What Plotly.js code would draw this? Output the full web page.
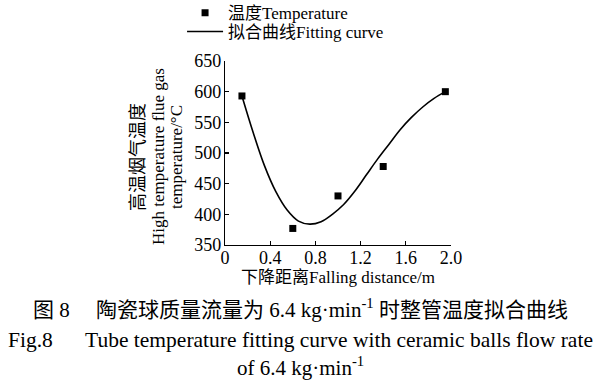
<!DOCTYPE html>
<html>
<head>
<meta charset="utf-8">
<script src="https://cdn.plot.ly/plotly-3.0.1.min.js"></script>
<style>
  html, body { margin: 0; padding: 0; background: #fff; }
  #chart { width: 600px; height: 383px; }
</style>
</head>
<body>
<div id="chart"></div>
<script>
// Measured temperature points
const measuredX = [0.15, 0.60, 1.00, 1.40, 1.95];
const measuredY = [593, 377, 430, 478, 600];

// Fitting curve
const fitX = [0.15, 0.25, 0.35, 0.45, 0.55, 0.65, 0.75, 0.85, 0.95, 1.05, 1.15, 1.25, 1.35, 1.45, 1.55, 1.65, 1.75, 1.85, 1.95];
const fitY = [593, 533, 479, 437, 407, 389, 384, 388, 400, 416, 438, 464, 490, 514, 538, 558, 575, 589, 600];

const xTicks = [0, 0.4, 0.8, 1.2, 1.6, 2.0];
const xTickLabels = ['0', '0.4', '0.8', '1.2', '1.6', '2.0'];
const yTicks = [350, 400, 450, 500, 550, 600, 650];

const serif = 'Liberation Serif, Noto Sans CJK SC, serif';
const latin = 'Liberation Serif, serif';

const traces = [
  {
    x: measuredX, y: measuredY, type: 'scatter', mode: 'markers',
    name: '温度Temperature', legend: 'legend',
    marker: { symbol: 'square', size: 7, color: '#000' }
  },
  {
    x: fitX, y: fitY, type: 'scatter', mode: 'lines',
    name: '拟合曲线Fitting curve', legend: 'legend2',
    line: { color: '#000', width: 1.6, shape: 'spline', smoothing: 1 }
  }
];

const legendStyle = {
  xanchor: 'left', yanchor: 'middle',
  font: { family: serif, size: 17, color: '#000' },
  bgcolor: 'rgba(0,0,0,0)', itemwidth: 36
};

const layout = {
  width: 600, height: 383,
  margin: { l: 225, r: 149, t: 61, b: 138, autoexpand: false },
  paper_bgcolor: '#fff', plot_bgcolor: '#fff',
  font: { family: serif, size: 17, color: '#000' },
  showlegend: true,
  legend: Object.assign({ x: -0.19, y: 1.26 }, legendStyle),
  legend2: Object.assign({ x: -0.19, y: 1.158 }, legendStyle),
  xaxis: {
    range: [0, 2.0], tickvals: xTicks, ticktext: xTickLabels,
    showline: true, linecolor: '#000', linewidth: 1.2,
    ticks: 'inside', ticklen: 4, tickcolor: '#000', tickwidth: 1.2,
    showgrid: false, zeroline: false, ticklabelstandoff: -4,
    tickfont: { family: latin, size: 18, color: '#000' },
    title: { text: '下降距离Falling distance/m', font: { family: serif, size: 17, color: '#000' }, standoff: 0 }
  },
  yaxis: {
    range: [350, 650], tickvals: yTicks,
    showline: true, linecolor: '#000', linewidth: 1.2,
    ticks: 'inside', ticklen: 4, tickcolor: '#000', tickwidth: 1.2,
    showgrid: false, zeroline: false, ticklabelstandoff: -1,
    tickfont: { family: latin, size: 18, color: '#000' }
  },
  annotations: [
    { xref: 'paper', yref: 'paper', x: 0, y: 0.478, xshift: -87, textangle: -90,
      text: '高温烟气温度', showarrow: false, xanchor: 'center', yanchor: 'middle',
      font: { family: serif, size: 18, color: '#000' } },
    { xref: 'paper', yref: 'paper', x: 0, y: 0.478, xshift: -67, textangle: -90,
      text: 'High temperature flue gas', showarrow: false, xanchor: 'center', yanchor: 'middle',
      font: { family: serif, size: 17, color: '#000' } },
    { xref: 'paper', yref: 'paper', x: 0, y: 0.478, xshift: -49, textangle: -90,
      text: 'temperature/°C', showarrow: false, xanchor: 'center', yanchor: 'middle',
      font: { family: serif, size: 17, color: '#000' } },
    { xref: 'paper', yref: 'paper', x: 0.5, y: 0, xshift: -38, yshift: -63,
      text: '图 8\u3000 陶瓷球质量流量为 6.4 kg·min<sup>-1</sup> 时整管温度拟合曲线', showarrow: false,
      xanchor: 'center', yanchor: 'middle', font: { family: serif, size: 21, color: '#000' } },
    { xref: 'paper', yref: 'paper', x: 0.5, y: 0, xshift: -38, yshift: -95,
      text: 'Fig.8\u2003\u2002Tube temperature fitting curve with ceramic balls flow rate', showarrow: false,
      xanchor: 'center', yanchor: 'middle', font: { family: serif, size: 21.5, color: '#000' } },
    { xref: 'paper', yref: 'paper', x: 0.5, y: 0, xshift: -38, yshift: -121,
      text: 'of 6.4 kg·min<sup>-1</sup>', showarrow: false,
      xanchor: 'center', yanchor: 'middle', font: { family: serif, size: 21, color: '#000' } }
  ]
};

Plotly.newPlot('chart', traces, layout, { displayModeBar: false, staticPlot: true });
</script>
</body>
</html>
